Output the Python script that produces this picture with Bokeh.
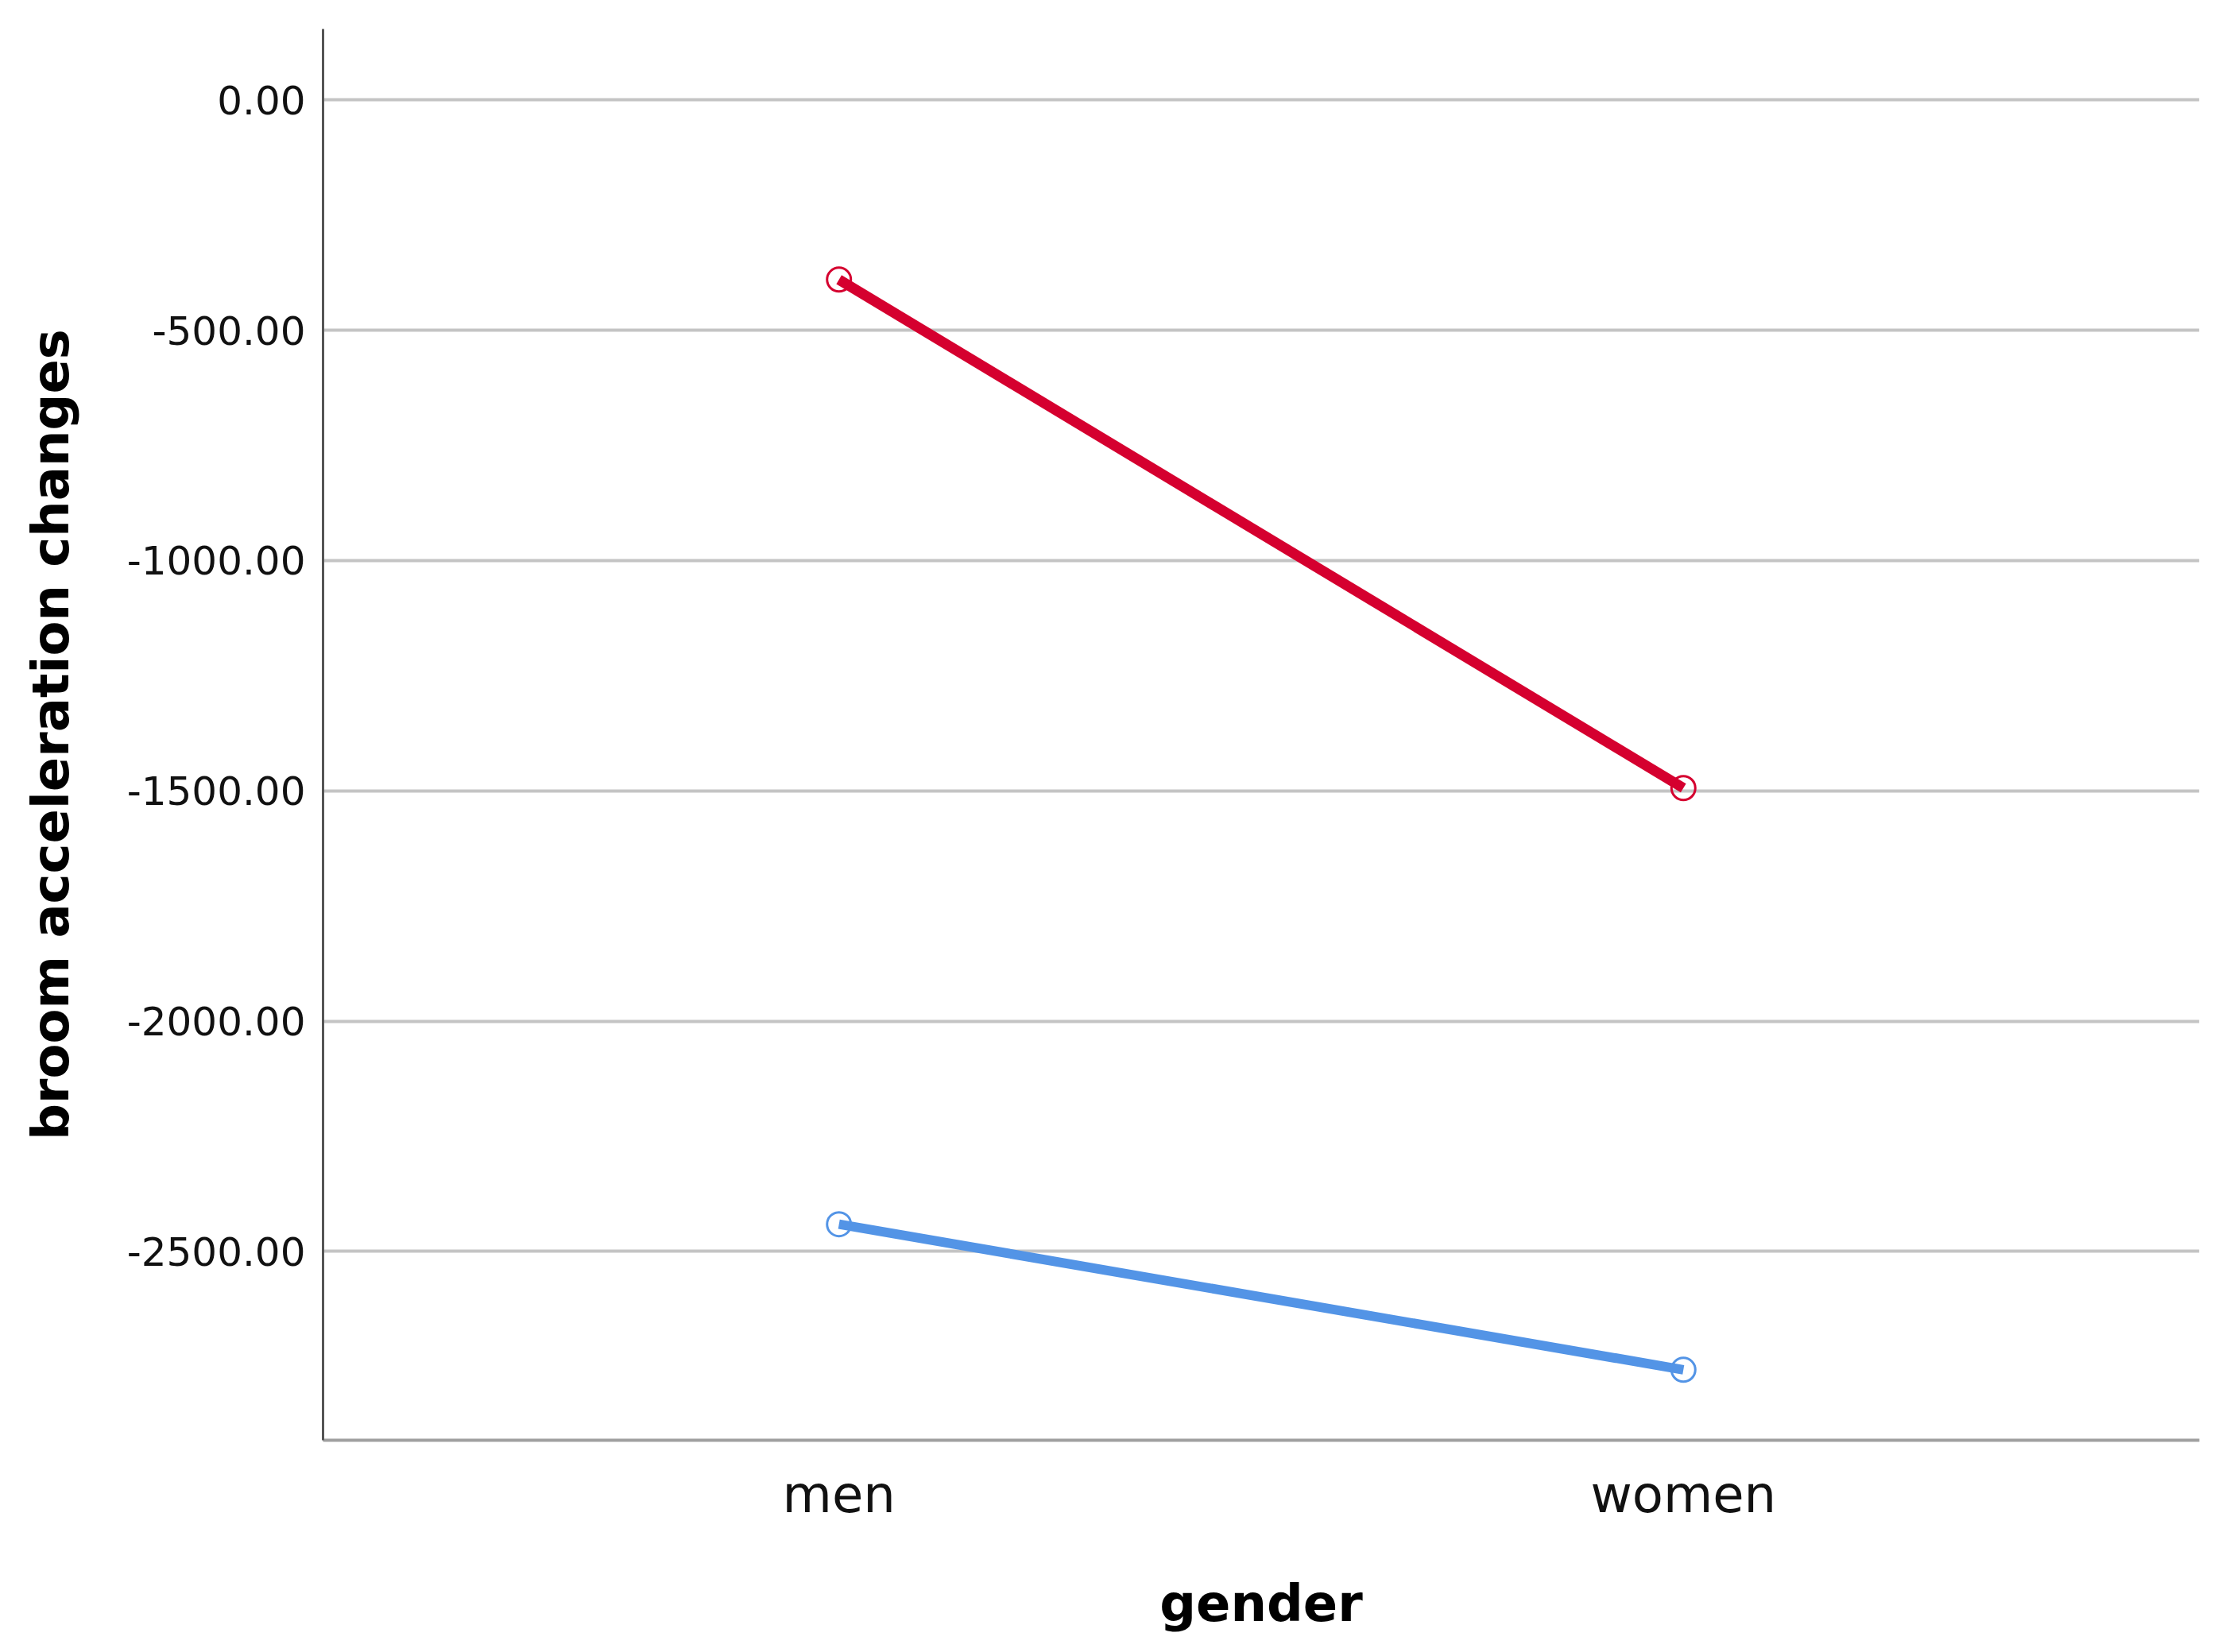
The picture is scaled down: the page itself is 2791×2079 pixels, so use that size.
from bokeh.plotting import figure
from bokeh.models import FactorRange, Range1d, FixedTicker, NumeralTickFormatter
from bokeh.embed import file_html
from bokeh.resources import INLINE

categories = ["men", "women"]
red_values = [-390, -1494]
blue_values = [-2441, -2757]
y_ticks = [0, -500, -1000, -1500, -2000, -2500]

p = figure(
    width=2775, height=2063,
    x_range=FactorRange(*categories, range_padding=0.111),
    y_range=Range1d(-2910, 154),
    output_backend="svg", toolbar_location=None,
    min_border_left=406, min_border_right=8, min_border_top=36, min_border_bottom=251,
)
p.outline_line_color = None
p.background_fill_color = "white"

p.xgrid.grid_line_color = None
p.ygrid.grid_line_color = "#c4c4c4"
p.ygrid.grid_line_width = 4
p.yaxis.ticker = FixedTicker(ticks=y_ticks)
p.yaxis.formatter = NumeralTickFormatter(format="0.00")

for ax in (p.xaxis[0], p.yaxis[0]):
    ax.major_tick_line_color = None
    ax.minor_tick_line_color = None
    ax.major_tick_out = 0
    ax.major_tick_in = 0
    ax.major_label_text_font = "DejaVu Sans"
    ax.major_label_text_color = "#111111"
    ax.axis_label_text_font = "DejaVu Sans"
    ax.axis_label_text_font_style = "bold"
    ax.axis_label_text_color = "#000000"
    ax.axis_label_text_font_size = "64px"

p.yaxis.axis_line_color = "#555555"
p.yaxis.axis_line_width = 3
p.yaxis.major_label_text_font_size = "50px"
p.yaxis.major_label_standoff = 22
p.yaxis.axis_label = "broom acceleration changes"
p.yaxis.axis_label_standoff = 56

p.xaxis.axis_line_color = "#a0a0a0"
p.xaxis.axis_line_width = 4
p.xaxis.major_label_text_font_size = "64px"
p.xaxis.major_label_standoff = 31
p.xaxis.axis_label = "gender"
p.xaxis.axis_label_standoff = 60

red = "#d5002f"
blue = "#5394e6"
p.line(categories, red_values, line_color=red, line_width=13)
p.scatter(categories, red_values, marker="circle", size=30, fill_color=None, line_color=red, line_width=3)
p.line(categories, blue_values, line_color=blue, line_width=12)
p.scatter(categories, blue_values, marker="circle", size=30, fill_color=None, line_color=blue, line_width=3)

open("out.html", "w").write(file_html(p, INLINE))
